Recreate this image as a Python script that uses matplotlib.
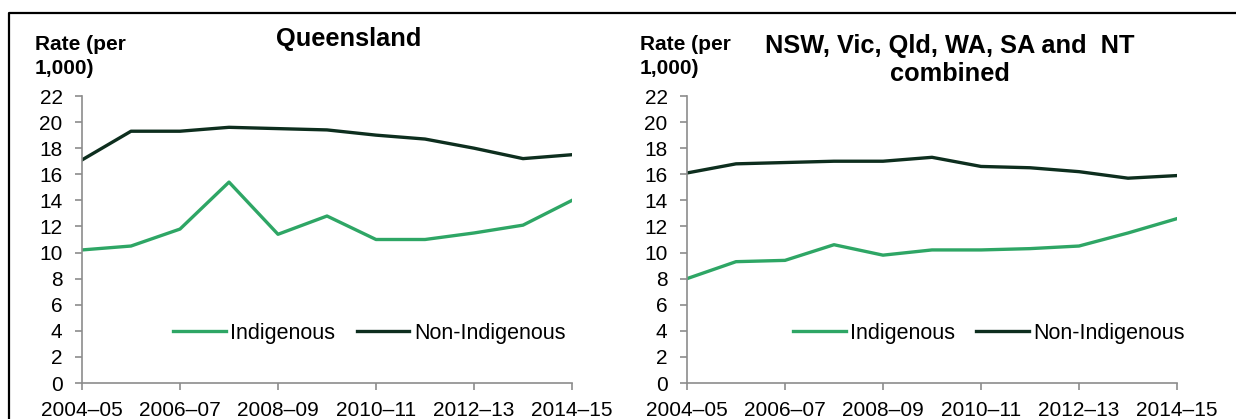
import matplotlib
matplotlib.use("Agg")
import matplotlib.pyplot as plt
from matplotlib.lines import Line2D

plt.rcParams['font.family'] = ['Liberation Sans', 'DejaVu Sans']

years = ['2004–05', '2005–06', '2006–07', '2007–08', '2008–09', '2009–10',
         '2010–11', '2011–12', '2012–13', '2013–14', '2014–15']
tick_labels = ['2004–05', '2006–07', '2008–09', '2010–11', '2012–13', '2014–15']

qld_indig = [10.2, 10.5, 11.8, 15.4, 11.4, 12.8, 11.0, 11.0, 11.5, 12.1, 14.0]
qld_non = [17.1, 19.3, 19.3, 19.6, 19.5, 19.4, 19.0, 18.7, 18.0, 17.2, 17.5]
comb_indig = [8.0, 9.3, 9.4, 10.6, 9.8, 10.2, 10.2, 10.3, 10.5, 11.5, 12.6]
comb_non = [16.1, 16.8, 16.9, 17.0, 17.0, 17.3, 16.6, 16.5, 16.2, 15.7, 15.9]

green = '#2ea665'
dark = '#0d2e1e'
axcol = '#8c8c8c'

W, H = 1236, 419
fig = plt.figure(figsize=(W/100, H/100), dpi=100)

# border (top and left)
fig.add_artist(Line2D([9/W, 9/W, 1], [0, 1 - 13/H, 1 - 13/H],
                      color='black', lw=1.6, transform=fig.transFigure))


def panel(left, right, ind, non, leg_x):
    ax = fig.add_axes([left/W, 1 - 383/H, (right - left)/W, (383 - 96)/H])
    x = list(range(len(years)))
    ax.plot(x, ind, color=green, lw=2.4, label='Indigenous')
    ax.plot(x, non, color=dark, lw=2.4, label='Non-Indigenous')
    ax.set_xlim(0, len(years) - 1)
    ax.set_ylim(0, 22)
    ax.set_yticks(range(0, 23, 2))
    ax.set_xticks(range(0, len(years), 2))
    ax.set_xticklabels(tick_labels)
    for s in ['top', 'right']:
        ax.spines[s].set_visible(False)
    for s in ['left', 'bottom']:
        ax.spines[s].set_color(axcol)
        ax.spines[s].set_linewidth(1.2)
    ax.tick_params(axis='both', colors=axcol, length=5, width=1.2, labelcolor='black',
                   labelsize=15)
    ax.tick_params(axis='x', pad=8)
    ax.tick_params(axis='y', pad=9)
    ax.legend(loc='center left', bbox_to_anchor=(leg_x, 0.174), ncol=2, frameon=False,
              fontsize=15.5, handlelength=2.45, handletextpad=0.2, columnspacing=1.0,
              borderpad=0, borderaxespad=0)
    return ax


panel(82, 572, qld_indig, qld_non, 0.186)
panel(687, 1177, comb_indig, comb_non, 0.216)

fig.text(35/W, 1 - 35/H, 'Rate (per\n1,000)', fontsize=15, fontweight='bold',
         va='top', ha='left', linespacing=1.3)
fig.text(640/W, 1 - 35/H, 'Rate (per\n1,000)', fontsize=15, fontweight='bold',
         va='top', ha='left', linespacing=1.3)
fig.text(349/W, 1 - 27/H, 'Queensland', fontsize=18.3, fontweight='bold',
         va='top', ha='center')
fig.text(950/W, 1 - 34/H, 'NSW, Vic, Qld, WA, SA and  NT\ncombined', fontsize=18.3,
         fontweight='bold', va='top', ha='center', linespacing=1.2)

fig.savefig('out.png', dpi=100)
